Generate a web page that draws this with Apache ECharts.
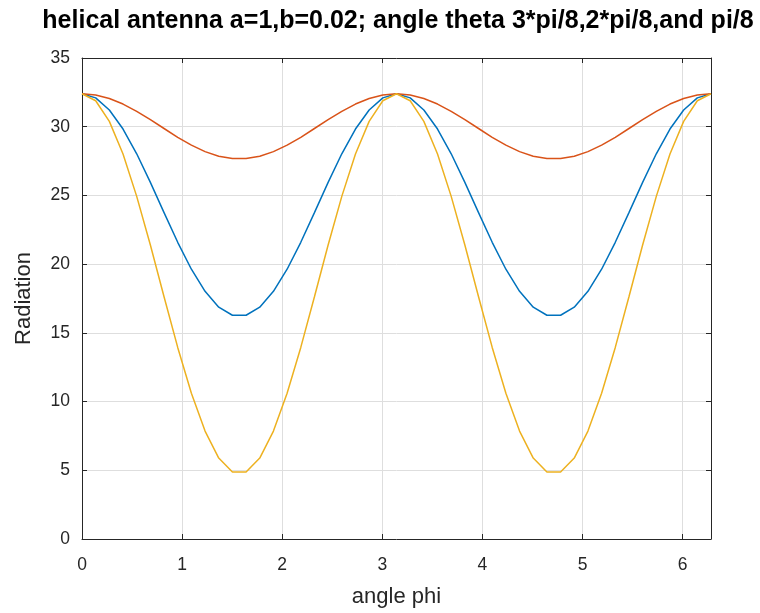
<!DOCTYPE html>
<html>
<head>
<meta charset="utf-8">
<script src="https://cdn.jsdelivr.net/npm/echarts@6/dist/echarts.min.js"></script>
<style>html,body{margin:0;padding:0;background:#fff;}#c{width:760px;height:613px;}</style>
</head>
<body>
<div id="c"></div>
<script>
const titleText = 'helical antenna a=1,b=0.02; angle theta 3*pi/8,2*pi/8,and pi/8';
const xName = 'angle phi';
const yName = 'Radiation';
const phi = [0, 0.1366, 0.2732, 0.4098, 0.5464, 0.6830, 0.8195, 0.9561, 1.0927, 1.2293, 1.3659, 1.5025,
  1.6391, 1.7757, 1.9123, 2.0489, 2.1855, 2.3220, 2.4586, 2.5952, 2.7318, 2.8684, 3.0050, 3.1416,
  3.2782, 3.4148, 3.5514, 3.6880, 3.8245, 3.9611, 4.0977, 4.2343, 4.3709, 4.5075, 4.6441, 4.7807,
  4.9173, 5.0539, 5.1905, 5.3270, 5.4636, 5.6002, 5.7368, 5.8734, 6.0100, 6.1466, 6.2832];
const blueVals = [32.40, 32.10, 31.22, 29.83, 28.03, 25.95, 23.75, 21.59, 19.63, 18.02, 16.87, 16.28,
  16.28, 16.87, 18.02, 19.63, 21.59, 23.75, 25.95, 28.03, 29.83, 31.22, 32.10, 32.40,
  32.10, 31.22, 29.83, 28.03, 25.95, 23.75, 21.59, 19.63, 18.02, 16.87, 16.28,
  16.28, 16.87, 18.02, 19.63, 21.59, 23.75, 25.95, 28.03, 29.83, 31.22, 32.10, 32.40];
const orangeVals = [32.40, 32.31, 32.05, 31.65, 31.12, 30.51, 29.87, 29.23, 28.66, 28.19, 27.85, 27.68,
  27.68, 27.85, 28.19, 28.66, 29.23, 29.87, 30.51, 31.12, 31.65, 32.05, 32.31, 32.40,
  32.31, 32.05, 31.65, 31.12, 30.51, 29.87, 29.23, 28.66, 28.19, 27.85, 27.68,
  27.68, 27.85, 28.19, 28.66, 29.23, 29.87, 30.51, 31.12, 31.65, 32.05, 32.31, 32.40];
const yellowVals = [32.40, 31.89, 30.39, 28.01, 24.93, 21.39, 17.63, 13.94, 10.60, 7.85, 5.89, 4.87,
  4.87, 5.89, 7.85, 10.60, 13.94, 17.63, 21.39, 24.93, 28.01, 30.39, 31.89, 32.40,
  31.89, 30.39, 28.01, 24.93, 21.39, 17.63, 13.94, 10.60, 7.85, 5.89, 4.87,
  4.87, 5.89, 7.85, 10.60, 13.94, 17.63, 21.39, 24.93, 28.01, 30.39, 31.89, 32.40];
const seriesNames = ['theta 1', 'theta 2', 'theta 3'];
const seriesColors = ['#0072BD', '#D95319', '#EDB120'];

const pair = (vals) => phi.map((x, i) => [x, vals[i]]);
const FONT = '"Liberation Sans", Arial, sans-serif';
const txt = '#262626';
const chart = echarts.init(document.getElementById('c'), null, {renderer: 'canvas'});
const xLabelFmt = v => (Math.abs(v - Math.round(v)) < 1e-6 ? String(Math.round(v)) : '');
chart.setOption({
  animation: false,
  backgroundColor: '#fff',
  title: {
    text: titleText, left: 393, top: 4, textAlign: 'center',
    textStyle: {fontFamily: FONT, fontWeight: 'bold', fontSize: 25, color: '#000'}
  },
  grid: {left: 82, right: 49, top: 58, bottom: 69},
  xAxis: [{
    type: 'value', min: 0, max: 6.2832, interval: 1,
    name: xName, nameLocation: 'middle', nameGap: 47,
    nameTextStyle: {fontFamily: FONT, fontSize: 22, color: txt},
    axisLine: {show: true, lineStyle: {color: txt, width: 1}},
    axisTick: {show: true, inside: true, length: 5, lineStyle: {color: txt}},
    axisLabel: {fontFamily: FONT, fontSize: 17.5, color: txt, margin: 17, formatter: xLabelFmt},
    splitLine: {show: true, lineStyle: {color: '#dedede', width: 1}}
  }, {
    type: 'value', position: 'top', min: 0, max: 6.2832, interval: 1,
    axisLine: {show: true, onZero: false, lineStyle: {color: txt, width: 1}},
    axisTick: {show: true, inside: true, length: 5, lineStyle: {color: txt}},
    axisLabel: {show: false}, splitLine: {show: false}
  }],
  yAxis: [{
    type: 'value', min: 0, max: 35, interval: 5,
    name: yName, nameLocation: 'middle', nameGap: 47,
    nameTextStyle: {fontFamily: FONT, fontSize: 22, color: txt},
    axisLine: {show: true, lineStyle: {color: txt, width: 1}},
    axisTick: {show: true, inside: true, length: 5, lineStyle: {color: txt}},
    axisLabel: {fontFamily: FONT, fontSize: 17.5, color: txt, margin: 12, padding: [5, 0, 0, 0]},
    splitLine: {show: true, lineStyle: {color: '#dedede', width: 1}}
  }, {
    type: 'value', position: 'right', min: 0, max: 35, interval: 5,
    axisLine: {show: true, onZero: false, lineStyle: {color: txt, width: 1}},
    axisTick: {show: true, inside: true, length: 5, lineStyle: {color: txt}},
    axisLabel: {show: false}, splitLine: {show: false}
  }],
  series: [blueVals, orangeVals, yellowVals].map((vals, i) => ({
    name: seriesNames[i], type: 'line', data: pair(vals),
    showSymbol: false, symbol: 'none',
    lineStyle: {color: seriesColors[i], width: 1.5},
    itemStyle: {color: seriesColors[i]}
  }))
});
</script>
</body>
</html>
